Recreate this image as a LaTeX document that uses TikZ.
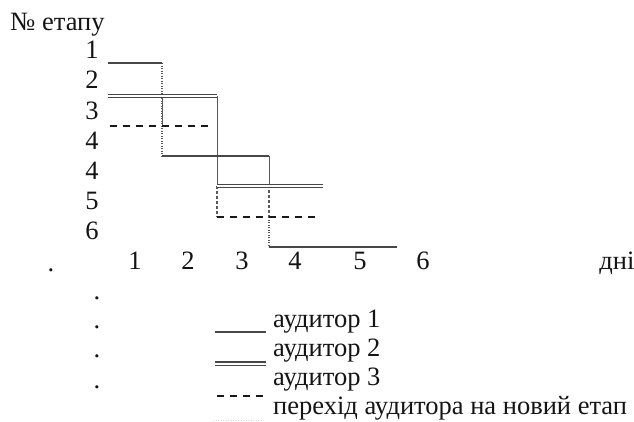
\documentclass[tikz,border=0pt]{standalone}
\usepackage{fontspec}
\setmainfont{Liberation Serif}
\begin{document}
\begin{tikzpicture}[x=1pt,y=-1pt,
  font=\fontsize{26.5}{30}\selectfont,
  lab/.style={anchor=base, inner sep=0pt, text=black!92},
  labw/.style={anchor=base west, inner sep=0pt, text=black!92},
  aud1/.style={draw=black!72, line width=1.3pt},
  aud2/.style={draw=black!72, double=white, double distance=2pt, line width=1.1pt},
  aud3/.style={draw=black!90, line width=2pt, dash pattern=on 7pt off 6pt},
  trans/.style={draw=black!65, line width=1.2pt, dash pattern=on 1.2pt off 1.3pt},
  thin/.style={draw=black!65, line width=1pt},
 ]
\useasboundingbox (0,0) rectangle (634,421);
% title
\node[labw] (title) at (10,30) {№ етапу};
% row labels
\node[lab] (r1) at (92,58) {1};
\node[lab] (r2) at (92,88) {2};
\node[lab] (r3) at (92,119) {3};
\node[lab] (r4) at (92,149) {4};
\node[lab] (r5) at (92,179) {4};
\node[lab] (r6) at (92,209) {5};
\node[lab] (r7) at (92,239) {6};
% axis labels
\node[lab] (d0) at (51,271) {.};
\node[lab] (d1) at (135,269) {1};
\node[lab] (d2) at (188,269) {2};
\node[lab] (d3) at (242,269) {3};
\node[lab] (d4) at (295,269) {4};
\node[lab] (d5) at (360,269) {5};
\node[lab] (d6) at (423,269) {6};
\node[lab] (days) at (617,269) {дні};
% dots column
\node[lab] (p1) at (97,299) {.};
\node[lab] (p2) at (97,328) {.};
\node[lab] (p3) at (97,357) {.};
\node[lab] (p4) at (97,388) {.};
% coordinates
\coordinate (a0) at (108,63);
\coordinate (a1) at (162,63);
\coordinate (a2) at (162,156);
\coordinate (a3) at (269,156);
\coordinate (a4) at (269,247);
\coordinate (a5) at (397,247);
\coordinate (b0) at (108,95.7);
\coordinate (b1) at (217,95.7);
\coordinate (b2) at (217,185.7);
\coordinate (b3) at (323,185.7);
\coordinate (c0) at (110,126);
\coordinate (c1) at (213,126);
\coordinate (c2) at (217,217);
\coordinate (c3) at (320,217);
% transitions (vertical)
\draw[trans] (a1) -- (a2);
\draw[thin] (162,97) -- (162,125);
\draw[thin] (b1) -- (b2);
\draw[trans, line width=1.4pt, dash pattern=on 3pt off 2pt] (b2) -- (217,216);
\draw[thin] (a3) -- (269,185);
\draw[trans, line width=1.4pt, dash pattern=on 3pt off 2pt] (269,185) -- (269,217);
\draw[trans] (269,217) -- (a4);
% auditor 1
\draw[aud1] (a0) -- (a1);
\draw[aud1] (a2) -- (a3);
\draw[aud1] (a4) -- (a5);
% auditor 2
\draw[aud2] (b0) -- (b1);
\draw[aud2] (b2) -- (b3);
% auditor 3
\draw[aud3] (c0) -- (c1);
\draw[aud3] (c2) -- (c3);
% legend
\coordinate (l1a) at (215,332); \coordinate (l1b) at (266,332);
\coordinate (l2a) at (215,363.5); \coordinate (l2b) at (266,363.5);
\coordinate (l3a) at (217,396); \coordinate (l3b) at (266,396);
\coordinate (l4a) at (213,420); \coordinate (l4b) at (263,420);
\draw[aud1, line width=1.1pt] (l1a) -- (l1b);
\draw[aud2] (l2a) -- (l2b);
\draw[aud3] (l3a) -- (l3b);
\draw[draw=black!15, line width=1pt, dash pattern=on 1.2pt off 1.3pt] (l4a) -- (l4b);
\node[labw] (t1) at (273,327) {аудитор 1};
\node[labw] (t2) at (273,356) {аудитор 2};
\node[labw] (t3) at (273,385) {аудитор 3};
\node[labw] (t4) at (273,414) {перехід аудитора на новий етап};
\end{tikzpicture}
\end{document}
